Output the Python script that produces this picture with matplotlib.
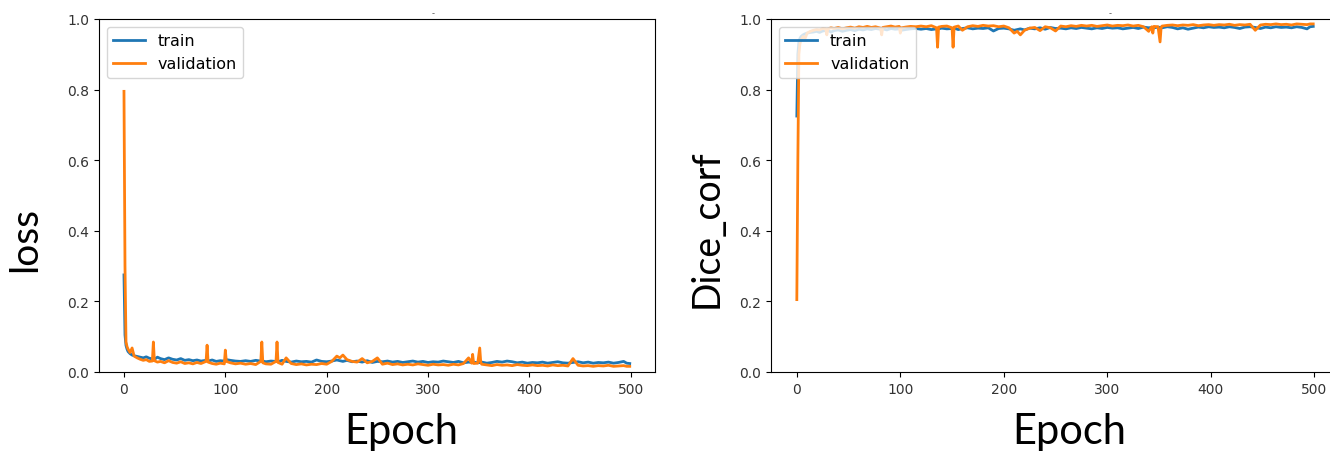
import matplotlib.pyplot as plt

epochs = [
    0, 1, 2, 3, 4, 6, 8, 10, 13, 16,
    19, 22, 25, 28, 29, 30, 33, 36, 40, 44,
    48, 52, 56, 60, 64, 68, 72, 76, 81, 82,
    83, 87, 91, 95, 99, 100, 101, 105, 110, 115,
    120, 125, 130, 135, 136, 137, 140, 145, 150, 151,
    152, 156, 160, 165, 170, 175, 180, 185, 190, 195,
    200, 205, 210, 213, 216, 220, 225, 230, 235, 240,
    245, 250, 255, 260, 265, 270, 275, 280, 285, 290,
    295, 300, 305, 310, 315, 320, 325, 330, 335, 340,
    343, 344, 345, 349, 351, 352, 353, 358, 363, 368,
    373, 378, 383, 388, 393, 398, 403, 408, 413, 418,
    423, 428, 433, 438, 443, 448, 453, 458, 463, 468,
    473, 478, 483, 488, 493, 496, 499,
]

train_loss = [
    0.275, 0.105, 0.075, 0.065, 0.058, 0.052, 0.048, 0.046, 0.044, 0.042,
    0.040, 0.043, 0.039, 0.037, 0.038, 0.036, 0.042, 0.038, 0.035, 0.040,
    0.036, 0.034, 0.038, 0.033, 0.035, 0.032, 0.034, 0.031, 0.033, 0.032,
    0.031, 0.034, 0.030, 0.032, 0.031, 0.030, 0.035, 0.033, 0.031, 0.030,
    0.032, 0.030, 0.033, 0.031, 0.030, 0.031, 0.029, 0.031, 0.030, 0.030,
    0.029, 0.033, 0.030, 0.028, 0.031, 0.029, 0.030, 0.028, 0.034, 0.030,
    0.029, 0.031, 0.034, 0.032, 0.030, 0.033, 0.029, 0.031, 0.028, 0.032,
    0.027, 0.030, 0.029, 0.031, 0.028, 0.030, 0.027, 0.029, 0.031, 0.028,
    0.030, 0.027, 0.029, 0.028, 0.031, 0.029, 0.027, 0.030, 0.026, 0.028,
    0.027, 0.029, 0.028, 0.026, 0.027, 0.026, 0.028, 0.025, 0.027, 0.030,
    0.028, 0.031, 0.029, 0.026, 0.028, 0.025, 0.027, 0.026, 0.028, 0.025,
    0.027, 0.029, 0.026, 0.025, 0.027, 0.029, 0.026, 0.028, 0.025, 0.027,
    0.026, 0.028, 0.025, 0.027, 0.030, 0.025, 0.024,
]

val_loss = [
    0.795, 0.300, 0.085, 0.072, 0.065, 0.055, 0.068, 0.045, 0.040, 0.036,
    0.033, 0.035, 0.030, 0.031, 0.085, 0.032, 0.028, 0.030, 0.026, 0.032,
    0.027, 0.025, 0.029, 0.024, 0.026, 0.023, 0.027, 0.024, 0.030, 0.076,
    0.028, 0.024, 0.022, 0.025, 0.023, 0.062, 0.030, 0.026, 0.023, 0.025,
    0.022, 0.024, 0.021, 0.030, 0.085, 0.026, 0.023, 0.022, 0.030, 0.085,
    0.027, 0.022, 0.040, 0.024, 0.021, 0.023, 0.020, 0.022, 0.021, 0.024,
    0.022, 0.030, 0.045, 0.040, 0.048, 0.035, 0.030, 0.028, 0.038, 0.026,
    0.030, 0.040, 0.022, 0.025, 0.021, 0.023, 0.020, 0.022, 0.020, 0.023,
    0.021, 0.019, 0.022, 0.020, 0.021, 0.019, 0.022, 0.020, 0.024, 0.040,
    0.025, 0.050, 0.024, 0.025, 0.068, 0.028, 0.022, 0.020, 0.018, 0.021,
    0.019, 0.020, 0.018, 0.021, 0.019, 0.018, 0.020, 0.018, 0.019, 0.017,
    0.020, 0.018, 0.019, 0.017, 0.038, 0.019, 0.017, 0.018, 0.016, 0.018,
    0.017, 0.019, 0.016, 0.017, 0.018, 0.016, 0.016,
]

train_dice = [
    0.725, 0.900, 0.935, 0.945, 0.950, 0.955, 0.958, 0.960, 0.962, 0.963,
    0.965, 0.962, 0.966, 0.967, 0.966, 0.968, 0.963, 0.967, 0.969, 0.965,
    0.968, 0.970, 0.967, 0.971, 0.969, 0.972, 0.970, 0.973, 0.971, 0.972,
    0.972, 0.969, 0.973, 0.971, 0.972, 0.973, 0.968, 0.970, 0.972, 0.973,
    0.971, 0.973, 0.970, 0.972, 0.973, 0.972, 0.974, 0.972, 0.973, 0.973,
    0.974, 0.970, 0.973, 0.975, 0.972, 0.974, 0.973, 0.975, 0.966, 0.973,
    0.974, 0.972, 0.968, 0.970, 0.972, 0.969, 0.974, 0.972, 0.975, 0.971,
    0.976, 0.973, 0.974, 0.972, 0.975, 0.973, 0.976, 0.974, 0.972, 0.975,
    0.973, 0.976, 0.974, 0.975, 0.972, 0.974, 0.976, 0.973, 0.977, 0.975,
    0.976, 0.974, 0.975, 0.977, 0.976, 0.977, 0.975, 0.978, 0.976, 0.972,
    0.975, 0.971, 0.974, 0.977, 0.975, 0.978, 0.976, 0.977, 0.975, 0.978,
    0.976, 0.973, 0.977, 0.978, 0.976, 0.973, 0.977, 0.975, 0.978, 0.976,
    0.977, 0.975, 0.978, 0.976, 0.972, 0.978, 0.979,
]

val_dice = [
    0.205, 0.600, 0.900, 0.930, 0.940, 0.950, 0.945, 0.960, 0.965, 0.968,
    0.970, 0.969, 0.973, 0.972, 0.955, 0.972, 0.975, 0.973, 0.976, 0.972,
    0.975, 0.977, 0.974, 0.978, 0.976, 0.979, 0.976, 0.978, 0.974, 0.955,
    0.976, 0.978, 0.980, 0.977, 0.979, 0.960, 0.975, 0.977, 0.979, 0.978,
    0.980, 0.978, 0.981, 0.975, 0.920, 0.977, 0.979, 0.980, 0.975, 0.920,
    0.977, 0.980, 0.968, 0.978, 0.981, 0.979, 0.982, 0.980, 0.981, 0.978,
    0.980, 0.975, 0.960, 0.965, 0.955, 0.968, 0.974, 0.976, 0.967, 0.978,
    0.975, 0.966, 0.980, 0.978, 0.981, 0.979, 0.982, 0.980, 0.982, 0.979,
    0.981, 0.983, 0.980, 0.982, 0.981, 0.983, 0.980, 0.982, 0.978, 0.965,
    0.978, 0.960, 0.979, 0.978, 0.935, 0.975, 0.980, 0.982, 0.983, 0.981,
    0.983, 0.982, 0.984, 0.981, 0.983, 0.984, 0.982, 0.984, 0.983, 0.985,
    0.982, 0.984, 0.983, 0.985, 0.968, 0.983, 0.985, 0.984, 0.986, 0.984,
    0.985, 0.983, 0.986, 0.985, 0.984, 0.986, 0.986,
]

big_font = ['Lato', 'DejaVu Sans']

fig = plt.figure(figsize=(13.3, 4.52), dpi=100)
ax1 = fig.add_axes([0.0742, 0.1748, 0.4183, 0.781])
ax2 = fig.add_axes([0.5797, 0.1748, 0.4271, 0.781])

for ax, tr, va in [(ax1, train_loss, val_loss), (ax2, train_dice, val_dice)]:
    ax.plot(epochs, tr, label='train', lw=2)
    ax.plot(epochs, va, label='validation', lw=2)
    ax.set_ylim(0, 1.0)
    ax.tick_params(labelsize=10, labelcolor='#333333')
    ax.legend(loc='upper left', fontsize=11.5)

# stray marks above each panel
fig.text(0.326, 0.97, '-', fontsize=6, ha='center', va='center', color='#555555')
fig.text(0.835, 0.97, '-', fontsize=6, ha='center', va='center', color='#555555')

fig.text(0.019, 0.47, 'loss', rotation=90, fontsize=28, family=big_font,
         ha='center', va='center')
fig.text(0.531, 0.495, 'Dice_corf', rotation=90, fontsize=27, family=big_font,
         ha='center', va='center')
fig.text(0.302, 0.045, 'Epoch', fontsize=30, family=big_font,
         ha='center', va='center')
fig.text(0.804, 0.045, 'Epoch', fontsize=30, family=big_font,
         ha='center', va='center')

fig.savefig('out.png', dpi=100)
